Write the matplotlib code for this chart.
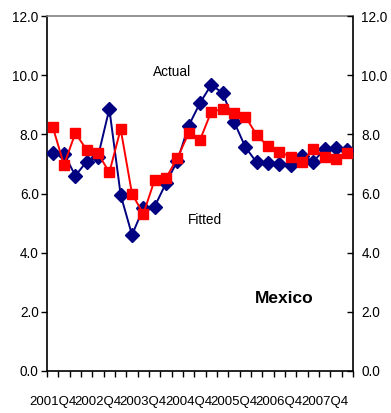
import matplotlib
matplotlib.use("Agg")
import matplotlib.pyplot as plt
from matplotlib.ticker import FixedLocator

plt.rcParams['font.family'] = ['Liberation Sans', 'DejaVu Sans']

quarters = []
for yr in range(2001, 2009):
    for q in range(1, 5):
        quarters.append(f"{yr}Q{q}")
categories = quarters[quarters.index("2001Q4"):quarters.index("2008Q2") + 1]

actual = [7.36, 7.35, 6.60, 7.08, 7.25, 8.86, 5.95, 4.60, 5.50, 5.56, 6.35, 7.10,
          8.29, 9.06, 9.68, 9.39, 8.43, 7.57, 7.05, 7.03, 7.00, 6.97, 7.27, 7.08,
          7.50, 7.53, 7.48]
fitted = [8.26, 6.97, 8.04, 7.48, 7.36, 6.71, 8.18, 5.99, 5.31, 6.46, 6.52, 7.20,
          8.04, 7.81, 8.77, 8.85, 8.72, 8.60, 7.98, 7.59, 7.40, 7.25, 7.06, 7.50,
          7.25, 7.16, 7.36]

yticks = [0, 2, 4, 6, 8, 10, 12]

fig = plt.figure(figsize=(3.91, 4.13), dpi=100)
ax = fig.add_axes([47/391, 1 - 371/413, 306/391, 355/413])

x = list(range(len(categories)))
ax.plot(x, actual, color='#000080', lw=1.4, marker='D', markersize=7.2,
        markerfacecolor='#000080', markeredgecolor='#000080', zorder=3)
ax.plot(x, fitted, color='#FF0000', lw=1.4, marker='s', markersize=7.8,
        markerfacecolor='#FF0000', markeredgecolor='#FF0000', zorder=4)

ax.set_xlim(-0.5, len(categories) - 0.5)
ax.set_ylim(0, 12)
ax.set_yticks(yticks)
ax.set_yticklabels([f"{v:.1f}" for v in yticks], fontsize=9.8)

label_pos = [i for i, c in enumerate(categories) if c.endswith("Q4")]
ax.set_xticks(label_pos)
ax.set_xticklabels([categories[i] for i in label_pos], fontsize=9.5)
ax.tick_params(axis='x', which='major', length=0, pad=18)
ax.xaxis.set_minor_locator(FixedLocator([i - 0.5 for i in range(len(categories) + 1)]))
ax.tick_params(axis='x', which='minor', length=4, width=1, direction='out')
ax.tick_params(axis='y', length=4, width=1, direction='out', pad=2)

for s in ['left', 'right', 'bottom']:
    ax.spines[s].set_color('black')
    ax.spines[s].set_linewidth(1.2)
ax.spines['top'].set_color('#808080')
ax.spines['top'].set_linewidth(1.2)

ax2 = ax.twinx()
ax2.set_ylim(0, 12)
ax2.set_yticks(yticks)
ax2.set_yticklabels([f"{v:.1f}" for v in yticks], fontsize=9.8)
ax2.tick_params(axis='y', length=4, width=1, direction='in', pad=6)
for s in ax2.spines.values():
    s.set_visible(False)

ax.text(10.5, 10.1, "Actual", fontsize=9.8, ha='center', va='center')
ax.text(13.45, 5.1, "Fitted", fontsize=9.8, ha='center', va='center')
ax.text(20.4, 2.45, "Mexico", fontsize=12.5, fontweight='bold', ha='center', va='center')

fig.savefig("out.png", dpi=100)
